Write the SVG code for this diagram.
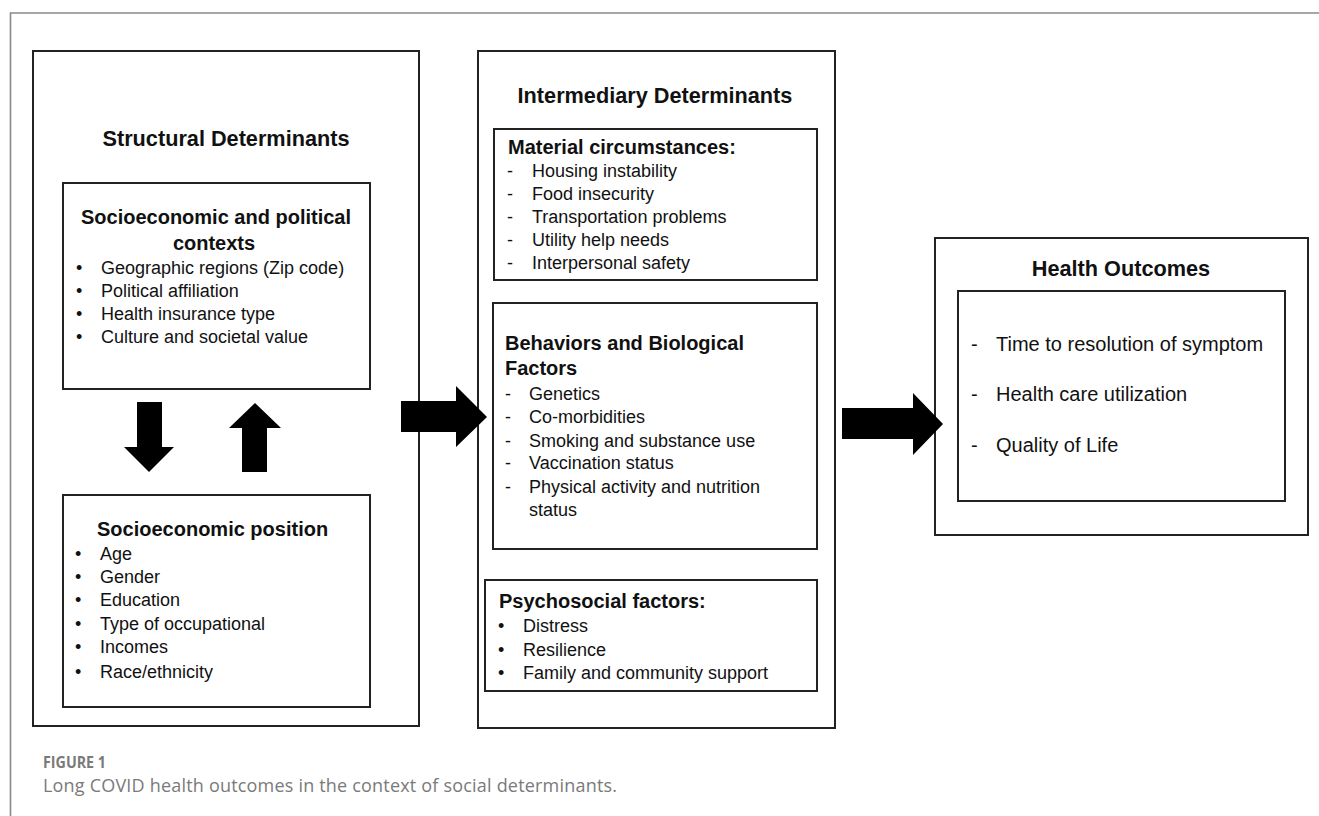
<svg xmlns="http://www.w3.org/2000/svg" width="1319" height="816" viewBox="0 0 1319 816">
<style>
.box{fill:none;stroke:#222;stroke-width:2}
.t{font-family:"Liberation Sans",Arial,sans-serif;fill:#111}
.h1{font-size:21.7px;font-weight:bold}
.h2{font-size:20px;font-weight:bold}
.it{font-size:18px}
.it20{font-size:20px}
.arr{fill:#000}
.cap{font-family:"Open Sans",Lato,sans-serif;fill:#7a7a7a}
</style>
<rect width="1319" height="816" fill="#fff"/>
<path d="M1319 13 H10.5 V816" fill="none" stroke="#8a8a8a" stroke-width="1.6"/>

<g id="structural">
<rect class="box" x="33" y="51" width="386" height="675"/>
<text class="t h1" x="226" y="146" text-anchor="middle">Structural Determinants</text>
</g>

<g id="sociopolitical">
<rect class="box" x="63" y="183" width="307" height="206"/>
<text class="t h2" x="216" y="224" text-anchor="middle">Socioeconomic and political</text>
<text class="t h2" x="214" y="250" text-anchor="middle">contexts</text>
<g class="t it">
<text x="76" y="274">•</text><text x="101" y="274">Geographic regions (Zip code)</text>
<text x="76" y="297">•</text><text x="101" y="297">Political affiliation</text>
<text x="76" y="320">•</text><text x="101" y="320">Health insurance type</text>
<text x="76" y="343">•</text><text x="101" y="343">Culture and societal value</text>
</g>
</g>

<g id="sociopos">
<rect class="box" x="63" y="495" width="307" height="212"/>
<text class="t h2" x="97" y="536">Socioeconomic position</text>
<g class="t it">
<text x="75" y="560">•</text><text x="100" y="560">Age</text>
<text x="75" y="583">•</text><text x="100" y="583">Gender</text>
<text x="75" y="606">•</text><text x="100" y="606">Education</text>
<text x="75" y="630">•</text><text x="100" y="630">Type of occupational</text>
<text x="75" y="653">•</text><text x="100" y="653">Incomes</text>
<text x="75" y="678">•</text><text x="100" y="678">Race/ethnicity</text>
</g>
</g>

<g id="intermediary">
<rect class="box" x="478" y="51" width="357" height="677"/>
<text class="t h1" x="655" y="103" text-anchor="middle">Intermediary Determinants</text>
</g>

<g id="material">
<rect class="box" x="494" y="129" width="323" height="151"/>
<text class="t h2" x="508" y="154">Material circumstances:</text>
<g class="t it">
<text x="507" y="177">-</text><text x="532" y="177">Housing instability</text>
<text x="507" y="200">-</text><text x="532" y="200">Food insecurity</text>
<text x="507" y="223">-</text><text x="532" y="223">Transportation problems</text>
<text x="507" y="246">-</text><text x="532" y="246">Utility help needs</text>
<text x="507" y="269">-</text><text x="532" y="269">Interpersonal safety</text>
</g>
</g>

<g id="behaviors">
<rect class="box" x="493" y="303" width="324" height="246"/>
<text class="t h2" x="505" y="350">Behaviors and Biological</text>
<text class="t h2" x="505" y="375">Factors</text>
<g class="t it">
<text x="505" y="400">-</text><text x="529" y="400">Genetics</text>
<text x="505" y="423">-</text><text x="529" y="423">Co-morbidities</text>
<text x="505" y="447">-</text><text x="529" y="447">Smoking and substance use</text>
<text x="505" y="469">-</text><text x="529" y="469">Vaccination status</text>
<text x="505" y="493">-</text><text x="529" y="493">Physical activity and nutrition</text>
<text x="529" y="516">status</text>
</g>
</g>

<g id="psychosocial">
<rect class="box" x="485" y="580" width="332" height="111"/>
<text class="t h2" x="499" y="608">Psychosocial factors:</text>
<g class="t it">
<text x="498" y="632">•</text><text x="523" y="632">Distress</text>
<text x="498" y="656">•</text><text x="523" y="656">Resilience</text>
<text x="498" y="679">•</text><text x="523" y="679">Family and community support</text>
</g>
</g>

<g id="outcomes">
<rect class="box" x="935" y="238" width="373" height="297"/>
<text class="t h1" x="1121" y="276" text-anchor="middle">Health Outcomes</text>
<rect class="box" x="958" y="291" width="327" height="210"/>
<g class="t it20">
<text x="971" y="351">-</text><text x="996" y="351">Time to resolution of symptom</text>
<text x="971" y="401">-</text><text x="996" y="401">Health care utilization</text>
<text x="971" y="452">-</text><text x="996" y="452">Quality of Life</text>
</g>
</g>

<g id="connectors">
<polygon class="arr" points="137,402 162,402 162,447 174,447 149,472 124,447 137,447"/>
<polygon class="arr" points="242,472 267,472 267,428 281,428 255,403 229,428 242,428"/>
<polygon class="arr" points="401,401 456,401 456,386 487,417 456,447 456,432 401,432"/>
<polygon class="arr" points="842,408 913,408 913,393 943,424 913,455 913,439 842,439"/>
</g>

<g id="caption">
<text class="cap" x="43" y="768" font-size="15.5" font-weight="bold" textLength="63" lengthAdjust="spacingAndGlyphs">FIGURE 1</text>
<text class="cap" x="43" y="792" font-size="18" textLength="574" lengthAdjust="spacing">Long COVID health outcomes in the context of social determinants.</text>
</g>
</svg>
